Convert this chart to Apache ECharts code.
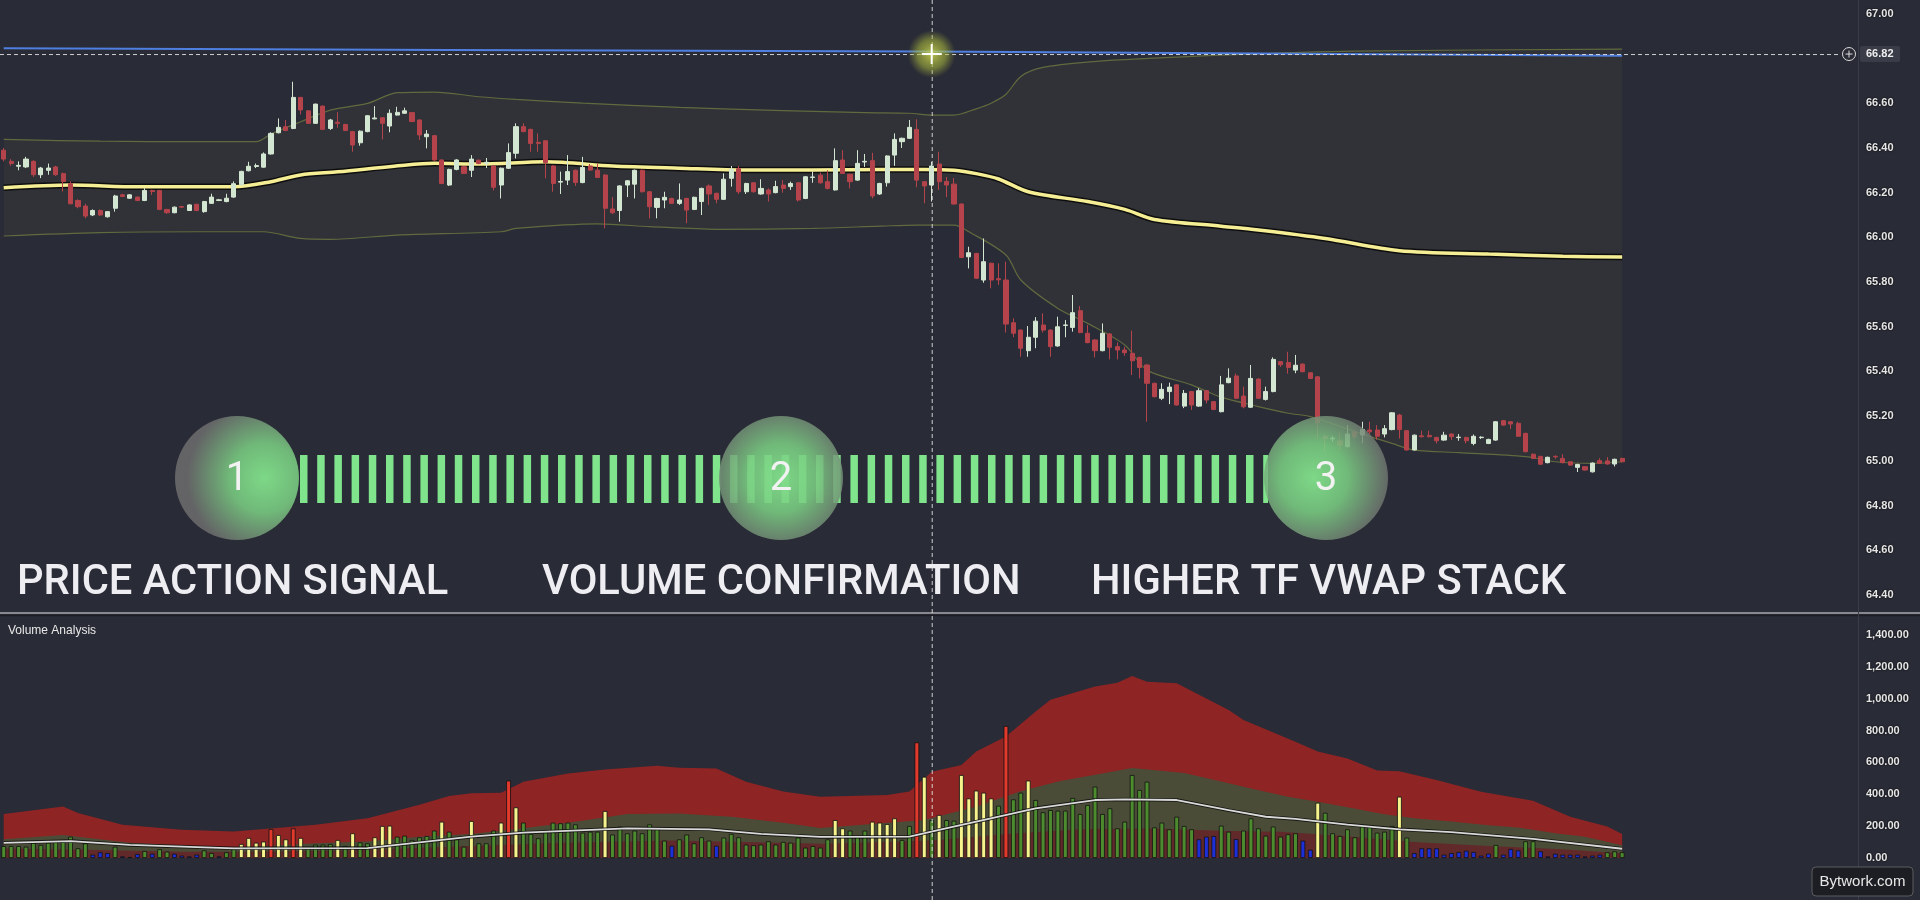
<!DOCTYPE html>
<html><head><meta charset="utf-8">
<script src="https://cdn.jsdelivr.net/npm/echarts@6.0.0/dist/echarts.min.js"></script>
<style>html,body{margin:0;padding:0;background:#292b36;overflow:hidden}#c{width:1920px;height:900px}</style>
</head><body><div id="c"></div>
<script>
// ---------- DATA ----------
const totalSlots = 250; // candles + empty right margin
const cats = Array.from({length: totalSlots}, (_, i) => String(i));

const open = [66.39,66.34,66.318,66.315,66.34,66.28,66.30,66.315,66.285,66.24,
66.165,66.14,66.10,66.12,66.092,66.13,66.19,66.175,66.18,66.165,
66.21,66.21,66.125,66.11,66.138,66.12,66.148,66.115,66.152,66.165,
66.16,66.18,66.235,66.298,66.317,66.314,66.373,66.468,66.495,66.487,
66.626,66.566,66.51,66.587,66.487,66.515,66.505,66.473,66.423,66.473,
66.53,66.535,66.498,66.547,66.555,66.558,66.525,66.45,66.455,66.346,
66.234,66.304,66.316,66.30,66.345,66.33,66.319,66.234,66.309,66.376,
66.495,66.483,66.425,66.432,66.319,66.247,66.256,66.30,66.245,66.319,
66.30,66.279,66.127,66.12,66.234,66.238,66.30,66.204,66.134,66.167,
66.174,66.152,66.174,66.125,66.16,66.23,66.197,66.17,66.264,66.307,
66.204,66.244,66.194,66.212,66.20,66.234,66.227,66.244,66.174,66.268,
66.278,66.249,66.212,66.346,66.282,66.256,66.337,66.343,66.194,66.244,
66.368,66.428,66.443,66.483,66.249,66.234,66.328,66.25,66.238,66.149,
65.913,65.928,65.809,65.884,65.815,65.809,65.618,65.585,65.493,65.553,
65.608,65.585,65.514,65.606,65.597,65.672,65.571,65.541,65.493,65.568,
65.511,65.496,65.481,65.463,65.429,65.347,65.28,65.31,65.34,65.245,
65.31,65.245,65.314,65.265,65.22,65.35,65.38,65.29,65.24,65.366,
65.275,65.31,65.444,65.44,65.406,65.433,65.394,65.376,65.11,65.098,
65.09,65.064,65.13,65.116,65.138,65.138,65.12,65.14,65.205,65.135,
65.049,65.112,65.114,65.105,65.093,65.12,65.104,65.105,65.078,65.104,
65.078,65.093,65.18,65.175,65.168,65.123,65.03,65.02,64.992,65.02,
65.011,64.996,64.971,64.974,64.951,65.001,65.00,64.986,65.011];

const close = [66.35,66.33,66.322,66.35,66.28,66.31,66.31,66.28,66.25,66.15,
66.137,66.095,66.12,66.10,66.115,66.185,66.183,66.19,66.165,66.21,
66.205,66.125,66.11,66.135,66.135,66.145,66.12,66.16,66.18,66.168,
66.175,66.24,66.295,66.318,66.321,66.373,66.465,66.492,66.478,66.626,
66.57,66.51,66.596,66.483,66.525,66.51,66.478,66.413,66.475,66.544,
66.534,66.51,66.555,66.559,66.566,66.518,66.458,66.462,66.346,66.241,
66.304,66.346,66.286,66.35,66.33,66.336,66.224,66.309,66.379,66.495,
66.473,66.42,66.42,66.334,66.241,66.25,66.294,66.245,66.313,66.301,
66.268,66.13,66.11,66.23,66.253,66.30,66.204,66.137,66.174,66.179,
66.152,66.167,66.122,66.179,66.219,66.194,66.17,66.26,66.304,66.204,
66.241,66.204,66.219,66.194,66.227,66.219,66.241,66.167,66.271,66.27,
66.244,66.219,66.343,66.286,66.249,66.331,66.34,66.185,66.241,66.364,
66.438,66.443,66.492,66.256,66.23,66.319,66.249,66.234,66.149,65.91,
65.931,65.817,65.891,65.809,65.81,65.612,65.571,65.504,65.553,65.625,
65.585,65.511,65.60,65.608,65.663,65.574,65.529,65.493,65.571,65.508,
65.496,65.484,65.448,65.418,65.347,65.287,65.32,65.33,65.25,65.302,
65.25,65.314,65.272,65.23,65.34,65.37,65.28,65.242,65.369,65.28,
65.31,65.454,65.43,65.418,65.428,65.399,65.369,65.17,65.10,65.102,
65.07,65.12,65.108,65.14,65.13,65.11,65.144,65.215,65.14,65.049,
65.115,65.108,65.108,65.09,65.115,65.108,65.106,65.09,65.11,65.106,
65.096,65.175,65.16,65.165,65.11,65.041,65.011,64.985,65.016,65.018,
64.992,64.981,64.984,64.959,64.99,64.989,64.986,65.007,64.996];

const low = [66.34,66.32,66.30,66.31,66.27,66.265,66.28,66.275,66.205,66.148,
66.13,66.085,66.095,66.095,66.088,66.115,66.18,66.172,66.162,66.162,
66.19,66.122,66.105,66.108,66.132,66.118,66.117,66.11,66.15,66.162,
66.157,66.177,66.232,66.295,66.31,66.312,66.37,66.465,66.475,66.484,
66.55,66.508,66.508,66.48,66.48,66.49,66.475,66.383,66.41,66.47,
66.528,66.438,66.47,66.545,66.553,66.515,66.435,66.398,66.343,66.238,
66.23,66.30,66.283,66.27,66.327,66.31,66.21,66.174,66.306,66.353,
66.47,66.383,66.383,66.264,66.204,66.194,66.234,66.23,66.242,66.297,
66.265,66.04,66.104,66.07,66.18,66.174,66.20,66.085,66.085,66.13,
66.149,66.145,66.063,66.122,66.10,66.145,66.152,66.167,66.227,66.194,
66.194,66.20,66.191,66.16,66.197,66.20,66.212,66.16,66.171,66.244,
66.24,66.214,66.209,66.283,66.219,66.253,66.315,66.174,66.19,66.227,
66.32,66.40,66.44,66.224,66.152,66.16,66.212,66.18,66.146,65.907,
65.861,65.814,65.797,65.772,65.787,65.574,65.553,65.466,65.466,65.504,
65.574,65.466,65.511,65.553,65.578,65.571,65.526,65.463,65.49,65.454,
65.454,65.47,65.384,65.369,65.175,65.284,65.272,65.254,65.247,65.236,
65.228,65.242,65.257,65.227,65.217,65.347,65.277,65.235,65.237,65.277,
65.27,65.307,65.42,65.39,65.392,65.396,65.366,65.10,65.04,65.085,
65.05,65.06,65.10,65.08,65.12,65.095,65.105,65.137,65.10,65.046,
65.046,65.105,65.105,65.078,65.09,65.093,65.09,65.078,65.07,65.098,
65.075,65.09,65.157,65.143,65.107,65.038,65.008,64.982,64.989,65.01,
64.989,64.978,64.95,64.956,64.948,64.986,64.983,64.975,64.993];

const high = [66.40,66.35,66.34,66.36,66.345,66.315,66.33,66.32,66.29,66.25,
66.17,66.15,66.125,66.125,66.118,66.19,66.195,66.193,66.183,66.22,
66.213,66.212,66.127,66.138,66.141,66.148,66.15,66.163,66.195,66.172,
66.195,66.25,66.298,66.338,66.33,66.38,66.47,66.532,66.525,66.696,
66.628,66.568,66.598,66.59,66.53,66.56,66.508,66.476,66.478,66.547,
66.587,66.538,66.572,66.584,66.58,66.561,66.528,66.48,66.458,66.349,
66.307,66.35,66.319,66.368,66.348,66.355,66.322,66.312,66.42,66.51,
66.51,66.486,66.465,66.435,66.322,66.294,66.368,66.303,66.36,66.328,
66.33,66.282,66.18,66.233,66.256,66.303,66.303,66.207,66.177,66.204,
66.177,66.241,66.177,66.182,66.222,66.237,66.20,66.286,66.319,66.319,
66.244,66.247,66.26,66.219,66.253,66.256,66.249,66.247,66.274,66.296,
66.29,66.30,66.398,66.39,66.285,66.39,66.373,66.378,66.244,66.367,
66.465,66.446,66.525,66.528,66.252,66.338,66.383,66.27,66.265,66.152,
65.958,65.931,65.995,65.887,65.884,65.891,65.638,65.588,65.603,65.643,
65.66,65.588,65.645,65.63,65.742,65.693,65.608,65.544,65.615,65.571,
65.53,65.51,65.583,65.466,65.432,65.35,65.347,65.35,65.343,65.317,
65.313,65.325,65.317,65.268,65.38,65.414,65.391,65.332,65.429,65.369,
65.332,65.463,65.447,65.488,65.474,65.436,65.397,65.379,65.12,65.112,
65.13,65.16,65.137,65.175,65.175,65.16,65.16,65.218,65.21,65.138,
65.118,65.135,65.135,65.108,65.13,65.123,65.12,65.108,65.118,65.11,
65.099,65.178,65.183,65.178,65.175,65.126,65.033,65.023,65.019,65.025,
65.03,64.999,64.987,64.977,64.993,65.012,65.017,65.01,65.014];

// [candle index, price]
const vwapPts = [[0,66.222],[9,66.234],[18,66.226],[31,66.226],[36,66.249],[40,66.279],[45,66.293],[54,66.323],[58,66.331],[64,66.328],[73,66.338],[82,66.319],[91,66.309],[100,66.301],[109,66.301],[118,66.304],[124,66.304],[128,66.30],[131,66.285],[134,66.261],[138,66.204],[146,66.16],[151,66.125],[155,66.08],[164,66.05],[169,66.033],[178,65.995],[188,65.94],[200,65.925],[210,65.915],[218,65.912]];
const upperBandPts = [[0,66.438],[13,66.43],[26,66.428],[34,66.428],[36,66.462],[40,66.517],[44,66.569],[49,66.599],[53,66.647],[58,66.65],[64,66.629],[69,66.617],[78,66.60],[91,66.581],[105,66.567],[116,66.558],[122,66.555],[125,66.547],[128,66.547],[131,66.575],[133,66.6],[135,66.64],[137,66.72],[140,66.76],[148,66.789],[165,66.816],[182,66.833],[218,66.842]];
const lowerBandPts = [[0,66.006],[13,66.021],[26,66.025],[35,66.025],[40,65.995],[44,65.991],[53,66.01],[67,66.025],[69,66.04],[80,66.06],[87,66.048],[96,66.036],[109,66.04],[118,66.05],[123,66.055],[128,66.055],[130,66.025],[135,65.921],[137,65.809],[142,65.682],[146,65.615],[151,65.518],[154,65.406],[160,65.34],[164,65.285],[169,65.243],[173,65.213],[176,65.198],[182,65.131],[187,65.078],[190,65.048],[196,65.037],[205,65.019],[209,64.996],[214,64.989],[218,64.996]];
const htfVwapPts = [[0,66.846],[60,66.838],[125,66.831],[180,66.82],[218,66.812]];

const volume = [75,75,75,71,96,82,96,109,103,134,
61,92,21,36,31,71,10,6,25,44,
27,55,40,27,15,10,21,48,31,10,
36,55,88,126,96,103,182,144,117,186,
126,61,84,84,88,113,75,155,98,92,
130,201,203,134,140,113,130,138,172,228,
165,117,71,232,92,92,172,222,486,318,
222,151,124,176,222,218,222,211,159,165,
165,295,147,197,155,172,155,211,184,109,
77,117,147,92,130,109,77,128,151,130,
84,80,84,105,84,101,96,128,65,75,
65,117,238,186,172,138,172,228,222,213,
249,113,201,726,510,238,270,238,234,521,
374,423,410,374,328,829,368,410,486,364,
287,301,297,297,377,276,333,448,276,312,
186,228,521,427,479,192,222,180,259,201,
180,117,134,138,203,165,119,172,249,186,
140,197,134,149,155,109,52,347,284,155,
138,180,130,201,203,159,165,201,385,128,
31,61,61,61,21,31,38,46,38,15,
27,82,21,57,48,105,105,42,10,27,
21,21,21,10,15,21,36,42,36];
// g = normal, y = high, r = extreme, b = low volume
const volumeKind = ("gggggggggg"+"ggbbbgbbbg"+"bggbbbbggb"+"ggyyyyryyr"+"yggggygygg"+
  "yyyggggggy"+"gggygggyry"+"gggggggggg"+"gygggggggg"+"bgggggbggg"+
  "gggggggggg"+"ggyygggyyy"+"yggrygyggy"+"yyyygrggyg"+"gggggggggg"+
  "gggggggggg"+"gbbbggbggg"+"gggggbbygg"+"ggggggggyg"+"bbbbbbbbbb"+
  "bgbbbggbbb"+"bbbbbbggg").split('');

const volUpperPts = [[0,276],[8,324],[10,282],[16,209],[24,178],[31,167],[42,209],[49,250],[56,335],[60,389],[63,406],[67,410],[70,479],[76,531],[81,556],[88,579],[91,567],[96,562],[100,479],[105,417],[110,385],[119,396],[122,417],[125,542],[129,584],[131,668],[135,762],[139,919],[141,993],[147,1076],[150,1101],[152,1143],[154,1107],[158,1097],[165,929],[167,866],[174,730],[177,668],[181,625],[185,550],[188,545],[193,490],[199,416],[206,360],[211,259],[216,197],[218,150]];
const volMidPts = [[0,117],[8,144],[17,96],[28,71],[31,65],[42,92],[49,103],[56,134],[63,150],[70,186],[77,228],[84,276],[91,280],[98,259],[105,222],[110,188],[124,238],[131,324],[137,419],[142,481],[147,523],[152,565],[159,533],[164,480],[168,437],[173,385],[177,353],[181,318],[186,275],[190,250],[195,229],[200,205],[204,192],[209,155],[213,134],[218,80]];
const volLowPts = [[0,60],[13,50],[24,40],[31,40],[45,45],[60,70],[75,95],[90,110],[105,95],[110,90],[125,110],[135,150],[145,180],[155,185],[165,170],[172,165],[180,140],[190,100],[200,75],[210,55],[218,30]];
const volAvgPts = [[0,95],[9,106],[17,82],[31,61],[49,62],[63,134],[70,159],[84,186],[95,180],[102,151],[110,132],[122,134],[126,176],[131,228],[139,312],[147,364],[151,368],[158,364],[165,300],[170,259],[174,245],[181,210],[188,180],[195,162],[206,120],[218,58]];

const crossIndex = 125;
const crossPrice = 66.82;
const priceTicks = {min: 64.4, max: 67.0, step: 0.2};
const volTicks = {min: 0, max: 1400, step: 200};
const steps = [
  {num: '1', title: 'PRICE ACTION SIGNAL'},
  {num: '2', title: 'VOLUME CONFIRMATION'},
  {num: '3', title: 'HIGHER TF VWAP STACK'}
];

// ---------- STYLE ----------
const BG = '#292b36', BAND = '#303237', BANDLINE = '#616a3f';
const volColors = {g: '#4d8b2f', y: '#f7f38c', r: '#e2392d', b: '#1d2fd8'};
const axisFont = {color: '#e6e6e6', fontSize: 11, fontWeight: 'bold', fontFamily: 'Liberation Sans', textShadowColor: '#000', textShadowBlur: 2};

const chart = echarts.init(document.getElementById('c'), null, {renderer: 'canvas'});
const candles = open.map((o, i) => [o, close[i], low[i], high[i]]);
const volBars = volume.map((v, i) => ({value: v, itemStyle: {color: volColors[volumeKind[i]]}}));
const line = (name, data, color, width, extra) => Object.assign({
  type: 'line', name, data, symbol: 'none', silent: true,
  lineStyle: {color, width}, xAxisIndex: 0, yAxisIndex: 0
}, extra || {});

const option = {
  backgroundColor: BG,
  animation: false,
  grid: [
    {left: 0, top: 13.8, width: 1856, height: 581.2},
    {left: 0, top: 635, width: 1856, height: 223}
  ],
  xAxis: [0, 1].map(g => ({type: 'category', gridIndex: g, data: cats, boundaryGap: true, show: false})),
  yAxis: [
    {type: 'value', gridIndex: 0, position: 'right', min: priceTicks.min, max: priceTicks.max, interval: priceTicks.step,
     splitLine: {show: false}, axisLine: {show: false}, axisTick: {show: false},
     axisLabel: Object.assign({margin: 10, formatter: v => Math.abs(v - 66.8) < 1e-6 ? '' : v.toFixed(2)}, axisFont)},
    {type: 'value', gridIndex: 1, position: 'right', min: volTicks.min, max: volTicks.max, interval: volTicks.step,
     splitLine: {show: false}, axisLine: {show: false}, axisTick: {show: false},
     axisLabel: Object.assign({margin: 10, formatter: v => v.toLocaleString('en-US', {minimumFractionDigits: 2, maximumFractionDigits: 2})}, axisFont)}
  ],
  series: [
    line('Upper band', upperBandPts, BANDLINE, 1.2, {smooth: 0.3, z: 1, areaStyle: {color: BAND, origin: 'start', opacity: 1}}),
    line('Lower band', lowerBandPts, BANDLINE, 1.2, {smooth: 0.3, z: 1, areaStyle: {color: BG, origin: 'start', opacity: 1}}),
    line('HTF VWAP', htfVwapPts, '#4f7fe0', 2, {z: 3}),
    line('VWAP outline', vwapPts, 'rgba(8,8,8,0.85)', 6.5, {smooth: 0.3, z: 3}),
    line('VWAP', vwapPts, '#f6ee95', 3.5, {smooth: 0.3, z: 3}),
    {type: 'candlestick', name: 'Price', data: candles, xAxisIndex: 0, yAxisIndex: 0, barWidth: '62%', z: 4, silent: true,
     itemStyle: {color: '#d3e6d1', color0: '#b4434b', borderColor: '#d3e6d1', borderColor0: '#b4434b', borderWidth: 1}},
    line('Vol upper', volUpperPts, '#8e2424', 0, {xAxisIndex: 1, yAxisIndex: 1, z: 1, areaStyle: {color: '#8e2424', origin: 'start', opacity: 1}}),
    line('Vol mid', volMidPts, '#4b4c37', 0, {xAxisIndex: 1, yAxisIndex: 1, z: 1, areaStyle: {color: '#4b4c37', origin: 'start', opacity: 1}}),
    line('Vol low', volLowPts, '#62292a', 0, {xAxisIndex: 1, yAxisIndex: 1, z: 1, areaStyle: {color: '#62292a', origin: 'start', opacity: 1}}),
    {type: 'bar', name: 'Volume', data: volBars, xAxisIndex: 1, yAxisIndex: 1, barWidth: '64%', z: 2, silent: true,
     itemStyle: {borderColor: '#121212', borderWidth: 0.8}},
    line('Vol avg outline', volAvgPts, 'rgba(10,10,10,0.8)', 3.5, {xAxisIndex: 1, yAxisIndex: 1, z: 3}),
    line('Vol avg', volAvgPts, '#d9d9d9', 1.8, {xAxisIndex: 1, yAxisIndex: 1, z: 3})
  ]
};
chart.setOption(option);

// ---------- OVERLAY ----------
const cx = chart.convertToPixel({xAxisIndex: 0}, cats[crossIndex]);
const cy = chart.convertToPixel({yAxisIndex: 0}, crossPrice);
const RG = echarts.graphic.RadialGradient;
const circ = (x, gx) => ({type: 'circle', z: 100, shape: {cx: x, cy: 478, r: 62},
  style: {fill: new RG(gx, 0.5, 0.62, [
    {offset: 0, color: 'rgba(128,222,138,0.97)'},
    {offset: 0.45, color: 'rgba(122,205,130,0.88)'},
    {offset: 1, color: 'rgba(112,112,112,0.82)'}])}});
const circleX = [237, 781, 1326];
const titleX = [17, 542, 1091];
const g = [
  {type: 'line', z: 90, shape: {x1: 0, y1: 613, x2: 1920, y2: 613}, style: {stroke: '#a9a9ad', lineWidth: 1.5}},
  {type: 'line', z: 90, shape: {x1: 0, y1: 615.5, x2: 1920, y2: 615.5}, style: {stroke: '#1c1d24', lineWidth: 1.5}},
  {type: 'line', z: 90, shape: {x1: 1858.5, y1: 0, x2: 1858.5, y2: 900}, style: {stroke: '#3a3d48', lineWidth: 1}},
  {type: 'text', z: 100, style: {text: 'Volume Analysis', x: 8, y: 631, fill: '#e8e8e8', font: '12px "Liberation Sans"', textVerticalAlign: 'middle'}},
  {type: 'line', z: 99, shape: {x1: 300, y1: 479, x2: 1268, y2: 479}, style: {stroke: '#7fe48c', lineWidth: 48, lineDash: [7.5, 9.7]}},
  circ(circleX[0], 0.72), circ(circleX[1], 0.5), circ(circleX[2], 0.4)
];
steps.forEach((s, k) => {
  g.push({type: 'text', z: 101, style: {text: s.num, x: circleX[k], y: 480, fill: '#f2f2f2', font: '40px Roboto', textAlign: 'center', textVerticalAlign: 'middle'}});
  g.push({type: 'text', z: 101, style: {text: s.title, x: titleX[k], y: 584, fill: '#eeeef2', font: '500 41.7px Roboto', textAlign: 'left', textVerticalAlign: 'middle'}});
});
// crosshair
g.push(
  {type: 'line', z: 110, shape: {x1: cx + 0.5, y1: 0, x2: cx + 0.5, y2: 900}, style: {stroke: 'rgba(225,225,225,0.9)', lineWidth: 1, lineDash: [4, 3]}},
  {type: 'line', z: 110, shape: {x1: 0, y1: cy + 0.5, x2: 1840, y2: cy + 0.5}, style: {stroke: 'rgba(225,225,225,0.9)', lineWidth: 1, lineDash: [4, 3]}},
  {type: 'circle', z: 111, shape: {cx: cx, cy: cy, r: 24}, style: {fill: new RG(0.5, 0.5, 0.5, [
    {offset: 0, color: 'rgba(205,215,80,0.85)'}, {offset: 0.6, color: 'rgba(170,185,60,0.55)'}, {offset: 1, color: 'rgba(150,160,60,0)'}])}},
  {type: 'line', z: 112, shape: {x1: cx - 10, y1: cy, x2: cx + 10, y2: cy}, style: {stroke: '#ffffff', lineWidth: 2}},
  {type: 'line', z: 112, shape: {x1: cx, y1: cy - 10, x2: cx, y2: cy + 10}, style: {stroke: '#ffffff', lineWidth: 2}},
  {type: 'rect', z: 111, shape: {x: 1860, y: cy - 8, width: 40, height: 16, r: 2}, style: {fill: '#3a3d48'}},
  {type: 'text', z: 112, style: {text: crossPrice.toFixed(2), x: 1866, y: cy, fill: '#eeeeee', font: 'bold 11px "Liberation Sans"', textVerticalAlign: 'middle'}},
  {type: 'circle', z: 112, shape: {cx: 1849, cy: cy, r: 6.5}, style: {fill: '#292b36', stroke: '#dddddd', lineWidth: 1}},
  {type: 'line', z: 113, shape: {x1: 1845.5, y1: cy, x2: 1852.5, y2: cy}, style: {stroke: '#dddddd', lineWidth: 1}},
  {type: 'line', z: 113, shape: {x1: 1849, y1: cy - 3.5, x2: 1849, y2: cy + 3.5}, style: {stroke: '#dddddd', lineWidth: 1}},
  {type: 'rect', z: 120, shape: {x: 1812, y: 867, width: 101, height: 29, r: 4}, style: {fill: '#1d1e23', stroke: '#5c5c60', lineWidth: 1}},
  {type: 'text', z: 121, style: {text: 'Bytwork.com', x: 1862.5, y: 881.5, fill: '#e8e8e8', font: '15px "Liberation Sans"', textAlign: 'center', textVerticalAlign: 'middle'}}
);
chart.setOption({graphic: g});
</script></body></html>
